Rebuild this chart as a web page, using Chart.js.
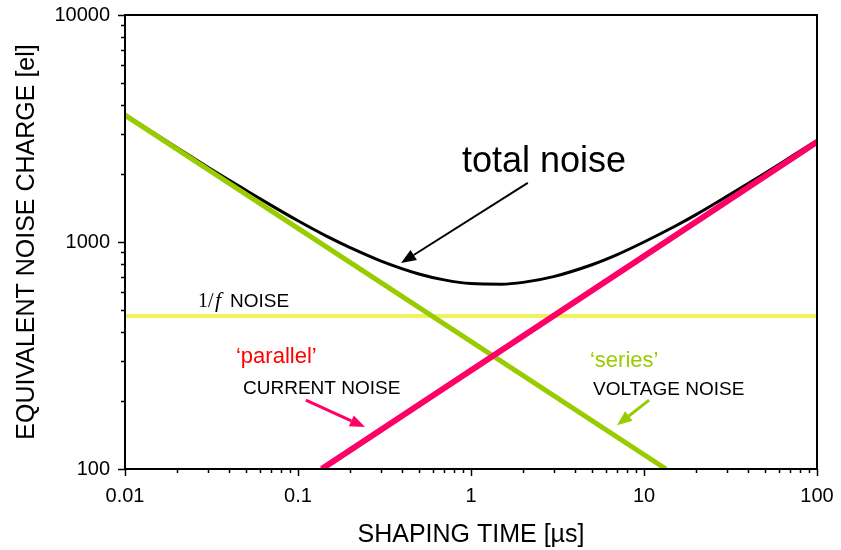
<!DOCTYPE html>
<html>
<head>
<meta charset="utf-8">
<title>Equivalent noise charge vs shaping time</title>
<script src="https://cdn.jsdelivr.net/npm/chart.js@4/dist/chart.umd.min.js"></script>
<style>
  html, body { margin: 0; padding: 0; background: #fff; }
  #wrap { width: 841px; height: 550px; }
</style>
</head>
<body>
<div id="wrap"><canvas id="enc"></canvas></div>
<script>
// ENC contributions vs shaping time (log-log)

const tau      = [0.01, 0.015, 0.02, 0.03, 0.05, 0.07, 0.1, 0.15, 0.2, 0.3, 0.5, 0.7,
                  1, 1.5, 2, 3, 5, 7, 10, 15, 20, 30, 50, 70, 100];
const totalEnc = [3650, 2990, 2600, 2140, 1690, 1450, 1240, 1050, 945, 826, 723, 681,
                  656, 652, 664, 704, 794, 880, 1000, 1170, 1320, 1585, 2010, 2360, 2800];

const seriesTau   = [0.01, 13.4];
const seriesEnc   = [3620, 100];
const parallelTau = [0.137, 100];
const parallelEnc = [100, 2760];
const flickerTau  = [0.01, 100];
const flickerEnc  = [472, 472];

const xTicks = [0.01, 0.1, 1, 10, 100];
const yTicks = [100, 1000, 10000];

const COLORS = {
  total: '#000000',
  series: '#99cc00',
  parallel: '#ff0066',
  flicker: '#f2f25c',
  red: '#ff0000',
};

const SANS = '"Liberation Sans", Arial, sans-serif';
const SERIF = '"Liberation Serif", "Times New Roman", serif';

function pts(xs, ys) {
  return xs.map((v, i) => ({ x: v, y: ys[i] }));
}

// 1..9 x 10^k between min and max, for the log axes
function decadeTicks(min, max) {
  const out = [];
  for (let e = Math.floor(Math.log10(min)); e <= Math.ceil(Math.log10(max)); e++) {
    for (let m = 1; m <= 9; m++) {
      const v = m * Math.pow(10, e);
      if (v >= min * 0.999 && v <= max * 1.001) out.push({ value: v });
    }
  }
  return out;
}

function isDecade(v, list) {
  return list.some(t => Math.abs(t - v) / t < 1e-6);
}

// text labels and arrows, placed in data coordinates
const notes = [
  { text: 'total noise', x: 0.887, y: 2034, font: '36px ' + SANS, color: '#000' },
  { text: 'NOISE', x: 0.0405, y: 517, font: '19px ' + SANS, color: '#000' },
  { text: '\u2018parallel\u2019', x: 0.0438, y: 293, font: '22px ' + SANS, color: COLORS.red },
  { text: 'CURRENT NOISE', x: 0.0481, y: 214, font: '19px ' + SANS, color: '#000' },
  { text: '\u2018series\u2019', x: 4.87, y: 281, font: '22px ' + SANS, color: COLORS.series },
  { text: 'VOLTAGE NOISE', x: 5.07, y: 212, font: '19px ' + SANS, color: '#000' },
];

const arrows = [
  { from: [2.13, 1820], to: [0.394, 808], color: '#000', width: 2 },
  { from: [0.111, 201], to: [0.244, 153], color: COLORS.parallel, width: 3 },
  { from: [10.7, 201], to: [6.98, 156], color: COLORS.series, width: 3 },
];

function drawArrow(ctx, x0, y0, x1, y1, color, width) {
  const ang = Math.atan2(y1 - y0, x1 - x0);
  const len = 15, half = 6;
  const bx = x1 - len * Math.cos(ang), by = y1 - len * Math.sin(ang);
  ctx.save();
  ctx.strokeStyle = color;
  ctx.fillStyle = color;
  ctx.lineWidth = width;
  ctx.beginPath();
  ctx.moveTo(x0, y0);
  ctx.lineTo(bx, by);
  ctx.stroke();
  ctx.beginPath();
  ctx.moveTo(x1, y1);
  ctx.lineTo(bx + half * Math.sin(ang), by - half * Math.cos(ang));
  ctx.lineTo(bx - half * Math.sin(ang), by + half * Math.cos(ang));
  ctx.closePath();
  ctx.fill();
  ctx.restore();
}

const frameAndNotes = {
  id: 'frameAndNotes',
  afterDatasetsDraw(chart) {
    const { ctx, chartArea: a, scales: { x, y } } = chart;

    // plot frame
    ctx.save();
    ctx.strokeStyle = '#000';
    ctx.lineWidth = 2;
    ctx.strokeRect(a.left, a.top, a.right - a.left, a.bottom - a.top);

    // outward ticks: long on decades, short in between
    ctx.lineWidth = 1.5;
    x.ticks.forEach(t => {
      const px = Math.round(x.getPixelForValue(t.value)) + 0.5;
      const l = isDecade(t.value, xTicks) ? 7 : 4;
      ctx.beginPath();
      ctx.moveTo(px, a.bottom);
      ctx.lineTo(px, a.bottom + l);
      ctx.stroke();
    });
    y.ticks.forEach(t => {
      const py = Math.round(y.getPixelForValue(t.value)) + 0.5;
      const l = isDecade(t.value, yTicks) ? 7 : 4;
      ctx.beginPath();
      ctx.moveTo(a.left, py);
      ctx.lineTo(a.left - l, py);
      ctx.stroke();
    });
    ctx.restore();

    // annotations
    ctx.save();
    ctx.textBaseline = 'alphabetic';
    ctx.textAlign = 'left';
    notes.forEach(n => {
      ctx.font = n.font;
      ctx.fillStyle = n.color;
      ctx.fillText(n.text, x.getPixelForValue(n.x), y.getPixelForValue(n.y));
    });

    // "1/f" in front of NOISE
    const fx = x.getPixelForValue(0.0264), fy = y.getPixelForValue(517);
    ctx.fillStyle = '#000';
    ctx.font = '20px ' + SERIF;
    ctx.fillText('1/', fx, fy);
    ctx.font = 'italic 22px ' + SERIF;
    ctx.fillText('f', fx + 17, fy);
    ctx.restore();

    arrows.forEach(ar => {
      drawArrow(ctx,
        x.getPixelForValue(ar.from[0]), y.getPixelForValue(ar.from[1]),
        x.getPixelForValue(ar.to[0]), y.getPixelForValue(ar.to[1]),
        ar.color, ar.width);
    });
  },
};

Chart.defaults.font.family = SANS;
Chart.defaults.color = '#000';

new Chart(document.getElementById('enc'), {
  type: 'line',
  data: {
    datasets: [
      {
        label: 'parallel current noise',
        data: pts(parallelTau, parallelEnc),
        borderColor: COLORS.parallel,
        borderWidth: 6,
        pointRadius: 0,
        order: 0,
      },
      {
        label: 'series voltage noise',
        data: pts(seriesTau, seriesEnc),
        borderColor: COLORS.series,
        borderWidth: 5,
        pointRadius: 0,
        order: 1,
      },
      {
        label: 'total noise',
        data: pts(tau, totalEnc),
        borderColor: COLORS.total,
        borderWidth: 3,
        pointRadius: 0,
        cubicInterpolationMode: 'monotone',
        order: 2,
      },
      {
        label: '1/f noise',
        data: pts(flickerTau, flickerEnc),
        borderColor: COLORS.flicker,
        borderWidth: 4,
        pointRadius: 0,
        order: 3,
      },
    ],
  },
  options: {
    responsive: true,
    maintainAspectRatio: false,
    animation: false,
    layout: { padding: { top: 15, right: 24, left: 0, bottom: 0 } },
    plugins: {
      legend: { display: false },
      tooltip: { enabled: false },
    },
    scales: {
      x: {
        type: 'logarithmic',
        min: 0.01,
        max: 100,
        afterBuildTicks: s => { s.ticks = decadeTicks(0.01, 100); },
        afterFit: s => {
          s.height = 81;
          s.paddingLeft = 0;
          s.paddingRight = 0;
        },
        grid: { display: false, drawTicks: false },
        border: { display: false },
        ticks: {
          autoSkip: false,
          maxRotation: 0,
          padding: 15,
          font: { size: 20 },
          color: '#000',
          callback: v => (isDecade(v, xTicks) ? String(v) : ''),
        },
        title: {
          display: true,
          text: 'SHAPING TIME [\u00b5s]',
          font: { size: 25 },
          color: '#000',
          padding: { top: 0, bottom: 0 },
        },
      },
      y: {
        type: 'logarithmic',
        min: 100,
        max: 10000,
        afterBuildTicks: s => { s.ticks = decadeTicks(100, 10000); },
        afterFit: s => {
          s.width = 125;
          s.paddingTop = 0;
          s.paddingBottom = 0;
        },
        grid: { display: false, drawTicks: false },
        border: { display: false },
        ticks: {
          autoSkip: false,
          padding: 15,
          font: { size: 20 },
          color: '#000',
          callback: v => (isDecade(v, yTicks) ? String(v) : ''),
        },
        title: {
          display: true,
          text: 'EQUIVALENT NOISE CHARGE [el]',
          font: { size: 25 },
          color: '#000',
          padding: { top: 12, bottom: 0 },
        },
      },
    },
  },
  plugins: [frameAndNotes],
});
</script>
</body>
</html>
